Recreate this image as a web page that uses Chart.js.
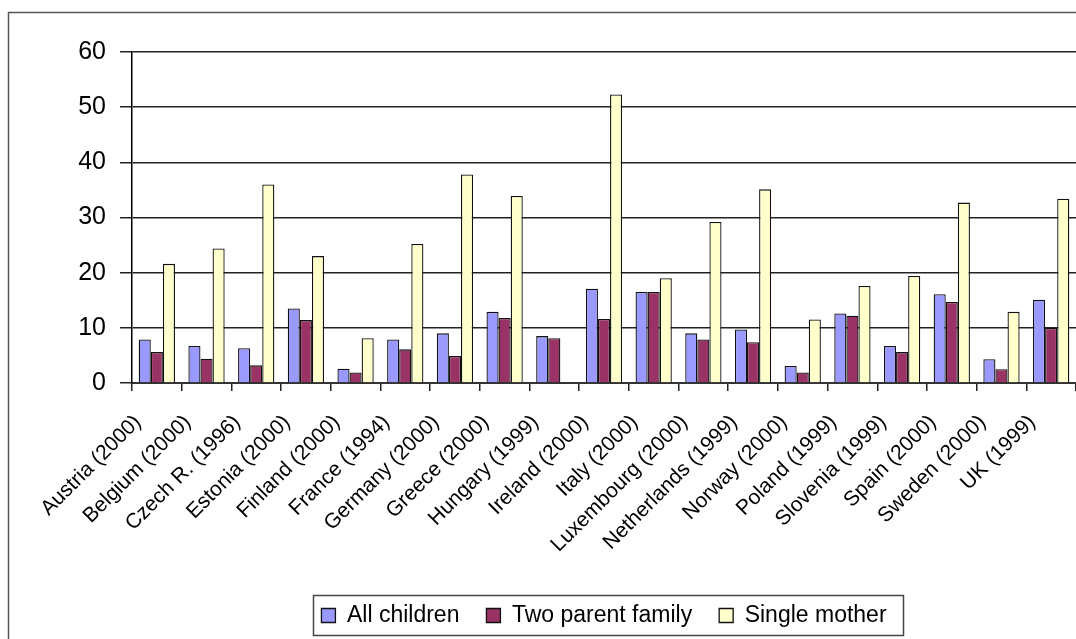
<!DOCTYPE html>
<html>
<head>
<meta charset="utf-8">
<script src="https://cdn.jsdelivr.net/npm/chart.js@4.4.1/dist/chart.umd.min.js"></script>
<style>
  html, body { margin: 0; padding: 0; background: #fff; overflow: hidden; }
  canvas { display: block; }
</style>
</head>
<body>
<canvas id="chart" width="1076" height="639"></canvas>
<script>
// Child poverty rates (%) by family type
const countries = [
  "Austria (2000)", "Belgium (2000)", "Czech R. (1996)", "Estonia (2000)",
  "Finland (2000)", "France (1994)", "Germany (2000)", "Greece (2000)",
  "Hungary (1999)", "Ireland (2000)", "Italy (2000)", "Luxembourg (2000)",
  "Netherlands (1999)", "Norway (2000)", "Poland (1999)", "Slovenia (1999)",
  "Spain (2000)", "Sweden (2000)", "UK (1999)"
];
const allChildren  = [7.9, 6.7, 6.3, 13.5, 2.6, 7.9, 9.0, 12.9, 8.5, 17.1, 16.5, 9.0, 9.7, 3.1, 12.6, 6.7, 16.1, 4.3, 15.1];
const twoParent    = [5.6, 4.4, 3.2, 11.4, 1.9, 6.1, 4.9, 11.8, 8.1, 11.6, 16.5, 7.9, 7.4, 1.9, 12.2, 5.6, 14.7, 2.5, 10.0];
const singleMother = [21.6, 24.4, 36.0, 23.0, 8.1, 25.2, 37.8, 33.9, null, 52.3, 19.0, 29.2, 35.1, 11.5, 17.6, 19.4, 32.7, 12.9, 33.4];
const seriesNames  = ["All children", "Two parent family", "Single mother"];
const yMin = 0, yMax = 60, yStep = 10;

const FONT = "'Liberation Sans', Arial, sans-serif";

// White page with the outer chart frame
const framePlugin = {
  id: 'frame',
  beforeDraw(chart) {
    const ctx = chart.ctx;
    ctx.save();
    ctx.fillStyle = '#fff';
    ctx.fillRect(0, 0, chart.width, chart.height);
    ctx.strokeStyle = '#555';
    ctx.lineWidth = 1.5;
    ctx.strokeRect(8.5, 12.5, 1400, 900);
    ctx.restore();
  }
};

// Box drawn around the legend row
const legendBoxPlugin = {
  id: 'legendBox',
  afterDraw(chart) {
    const boxes = chart.legend && chart.legend.legendHitBoxes;
    if (!boxes || !boxes.length) return;
    let l = Infinity, r = -Infinity, t = Infinity, b = -Infinity;
    boxes.forEach(h => {
      l = Math.min(l, h.left); r = Math.max(r, h.left + h.width);
      t = Math.min(t, h.top);  b = Math.max(b, h.top + h.height);
    });
    const ctx = chart.ctx;
    ctx.save();
    ctx.strokeStyle = '#444';
    ctx.lineWidth = 1.5;
    const x0 = Math.round(l - 8), x1 = Math.round(r + 16);
    const y0 = Math.round(t - 9), y1 = Math.round(b + 8);
    ctx.strokeRect(x0 + 0.5, y0 + 0.5, x1 - x0, y1 - y0);
    ctx.restore();
  }
};

const ctx = document.getElementById('chart').getContext('2d');
new Chart(ctx, {
  type: 'bar',
  data: {
    labels: countries,
    datasets: [
      { label: seriesNames[0], data: allChildren,  backgroundColor: '#9999FF' },
      { label: seriesNames[1], data: twoParent,    backgroundColor: '#993366' },
      { label: seriesNames[2], data: singleMother, backgroundColor: '#FFFFCC' }
    ].map(d => Object.assign(d, {
      borderColor: '#111',
      borderWidth: 1.3,
      barPercentage: 1.0,
      categoryPercentage: 0.73
    }))
  },
  options: {
    responsive: false,
    animation: false,
    devicePixelRatio: 1,
    layout: { padding: { top: 52, left: 0, right: 0, bottom: 2 } },
    plugins: {
      tooltip: { enabled: false },
      legend: {
        position: 'bottom',
        fullSize: false,
        labels: {
          boxWidth: 14,
          boxHeight: 14,
          padding: 27,
          color: '#000',
          font: { family: FONT, size: 23 }
        }
      }
    },
    scales: {
      x: {
        grid: {
          display: true,
          drawOnChartArea: false,
          drawTicks: true,
          tickLength: 8,
          color: '#222',
          lineWidth: 1.5
        },
        border: { display: true, color: '#333', width: 2 },
        ticks: {
          autoSkip: false,
          minRotation: 45,
          maxRotation: 45,
          padding: 19,
          labelOffset: -19,
          color: '#000',
          font: { family: FONT, size: 21 }
        },
        afterFit(scale) {
          scale.height = 194;
          scale.paddingLeft = 0;
          scale.paddingRight = 0;
        }
      },
      y: {
        min: yMin,
        max: yMax,
        ticks: {
          stepSize: yStep,
          padding: 14,
          color: '#000',
          font: { family: FONT, size: 25 }
        },
        grid: {
          color: '#222',
          lineWidth: 1.5,
          tickLength: 12,
          tickColor: '#222'
        },
        border: { display: true, color: '#000', width: 1.5 },
        afterFit(scale) {
          scale.width = 132;
        }
      }
    }
  },
  plugins: [framePlugin, legendBoxPlugin]
});
</script>
</body>
</html>
